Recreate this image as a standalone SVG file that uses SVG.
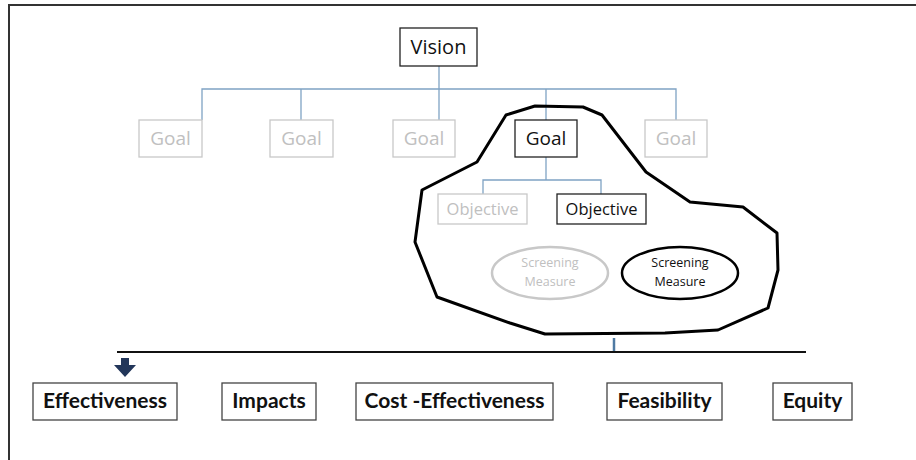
<svg xmlns="http://www.w3.org/2000/svg" width="916" height="460" viewBox="0 0 916 460">
  <style>
    .frame { fill: none; stroke: #333; stroke-width: 2; }
    .link { fill: none; stroke: #7fa3c4; stroke-width: 1.3; }
    .box { fill: #fff; stroke: #222; stroke-width: 1.3; }
    .dim { fill: #fff; stroke: #c8c8c8; stroke-width: 1.3; }
    .t { font-family: "Open Sans", "Noto Sans", sans-serif; font-size: 19px; text-anchor: middle; fill: #111; }
    .td { font-family: "Open Sans", "Noto Sans", sans-serif; font-size: 19px; text-anchor: middle; fill: #c0c0c0; }
    .obj { font-size: 16.5px; }
    .big { font-size: 20px; }
    .ts { font-family: "Open Sans", "Noto Sans", sans-serif; font-size: 12.5px; text-anchor: middle; fill: #111; }
    .tsd { font-family: "Open Sans", "Noto Sans", sans-serif; font-size: 12.5px; text-anchor: middle; fill: #c0c0c0; }
    .crit { fill: #fff; stroke: #444; stroke-width: 1.3; }
    .tc { font-family: Lato, "Liberation Sans", sans-serif; font-weight: bold; font-size: 21px; text-anchor: middle; fill: #111; }
  </style>

  <!-- outer frame (top and left edges only) -->
  <path class="frame" d="M9,460 V5 H916"/>

  <!-- tree connectors -->
  <g id="connectors">
    <path class="link" d="M439,66 V120"/>
    <path class="link" d="M202,120 V89 H676 V120"/>
    <path class="link" d="M301,89 V120"/>
    <path class="link" d="M546,89 V120"/>
    <path class="link" d="M546,157 V180"/>
    <path class="link" d="M483,194 V180 H601 V194"/>
    <path d="M614,338 V352" stroke="#4f7aa3" stroke-width="2.5" fill="none"/>
    <path d="M117,352 H806" stroke="#111" stroke-width="2" fill="none"/>
    <path d="M121,358 H129 V365 H136 L125,377 L114,365 H121 Z" fill="#22365a"/>
  </g>

  <!-- highlighted region around the selected branch -->
  <polygon id="focus-region" points="506,115 535,106 583,107 602,115 646,172 690,202 743,207 777,233 778,270 768,308 718,330 665,333 545,334 510,323 437,297 415,242 422,190 477,162" fill="none" stroke="#000" stroke-width="3" stroke-linejoin="round"/>

  <g id="vision">
    <rect class="box" x="400" y="28" width="77" height="38"/>
    <text class="t big" x="438.5" y="54">Vision</text>
  </g>

  <g id="goal-1">
    <rect class="dim" x="139" y="120" width="63" height="37"/>
    <text class="td" x="170.5" y="145">Goal</text>
  </g>
  <g id="goal-2">
    <rect class="dim" x="270" y="120" width="63" height="37"/>
    <text class="td" x="301.5" y="145">Goal</text>
  </g>
  <g id="goal-3">
    <rect class="dim" x="393" y="120" width="62" height="37"/>
    <text class="td" x="424" y="145">Goal</text>
  </g>
  <g id="goal-4">
    <rect class="box" x="515" y="120" width="62" height="37"/>
    <text class="t" x="546" y="145">Goal</text>
  </g>
  <g id="goal-5">
    <rect class="dim" x="645" y="120" width="62" height="37"/>
    <text class="td" x="676" y="145">Goal</text>
  </g>

  <g id="objective-1">
    <rect class="dim" x="438" y="194" width="89" height="30"/>
    <text class="td obj" x="482.5" y="215">Objective</text>
  </g>
  <g id="objective-2">
    <rect class="box" x="557" y="194" width="89" height="30"/>
    <text class="t obj" x="601.5" y="215">Objective</text>
  </g>

  <g id="measure-1">
    <ellipse cx="550" cy="273" rx="58" ry="26" fill="#fff" stroke="#c8c8c8" stroke-width="2.5"/>
    <text class="tsd" x="550" y="267">Screening</text>
    <text class="tsd" x="550" y="286">Measure</text>
  </g>
  <g id="measure-2">
    <ellipse cx="680" cy="273" rx="58" ry="26" fill="#fff" stroke="#000" stroke-width="2.5"/>
    <text class="ts" x="680" y="267">Screening</text>
    <text class="ts" x="680" y="286">Measure</text>
  </g>

  <g id="effectiveness">
    <rect class="crit" x="33" y="383" width="144" height="37"/>
    <text class="tc" x="105" y="408">Effectiveness</text>
  </g>
  <g id="impacts">
    <rect class="crit" x="222" y="383" width="94" height="37"/>
    <text class="tc" x="269" y="408">Impacts</text>
  </g>
  <g id="cost-effectiveness">
    <rect class="crit" x="356" y="383" width="197" height="37"/>
    <text class="tc" x="454.5" y="408">Cost -Effectiveness</text>
  </g>
  <g id="feasibility">
    <rect class="crit" x="607" y="383" width="115" height="37"/>
    <text class="tc" x="664.5" y="408">Feasibility</text>
  </g>
  <g id="equity">
    <rect class="crit" x="773" y="383" width="79" height="37"/>
    <text class="tc" x="812.5" y="408">Equity</text>
  </g>
</svg>
